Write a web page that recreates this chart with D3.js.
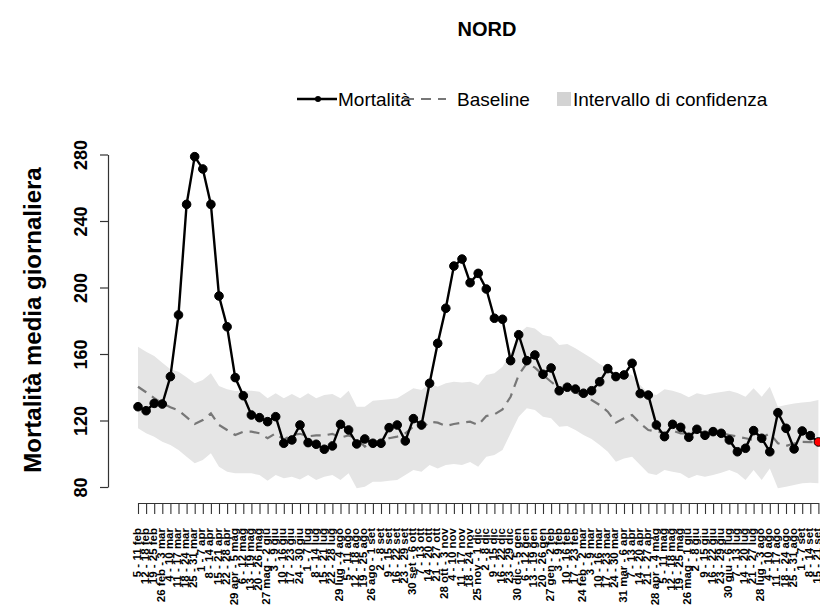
<!DOCTYPE html>
<html>
<head>
<meta charset="utf-8" />
<title>NORD</title>
<style>
  body { margin: 0; background: #fff; }
  svg { display: block; font-family: "Liberation Sans", Arial, sans-serif; }
</style>
</head>
<body>
<div id="chart"></div>
<script src="https://cdn.jsdelivr.net/npm/d3@7"></script>
<script>
// weekly labels (feb 2020 - set 2021)
var weeks = ["5 - 11 feb", "12 - 18 feb", "19 - 25 feb", "26 feb - 3 mar", "4 - 10 mar", "11 - 17 mar",
  "18 - 24 mar", "25 - 31 mar", "1 - 7 apr", "8 - 14 apr", "15 - 21 apr", "22 - 28 apr", "29 apr - 5 mag",
  "6 - 12 mag", "13 - 19 mag", "20 - 26 mag", "27 mag - 2 giu", "3 - 9 giu", "10 - 16 giu", "17 - 23 giu",
  "24 - 30 giu", "1 - 7 lug", "8 - 14 lug", "15 - 21 lug", "22 - 28 lug", "29 lug - 4 ago", "5 - 11 ago",
  "12 - 18 ago", "19 - 25 ago", "26 ago - 1 set", "2 - 8 set", "9 - 15 set", "16 - 22 set", "23 - 29 set",
  "30 set - 6 ott", "7 - 13 ott", "14 - 20 ott", "21 - 27 ott", "28 ott - 3 nov", "4 - 10 nov", "11 - 17 nov",
  "18 - 24 nov", "25 nov - 1 dic", "2 - 8 dic", "9 - 15 dic", "16 - 22 dic", "23 - 29 dic", "30 dic - 5 gen",
  "6 - 12 gen", "13 - 19 gen", "20 - 26 gen", "27 gen - 2 feb", "3 - 9 feb", "10 - 16 feb", "17 - 23 feb",
  "24 feb - 2 mar", "3 - 9 mar", "10 - 16 mar", "17 - 23 mar", "24 - 30 mar", "31 mar - 6 apr", "7 - 13 apr",
  "14 - 20 apr", "21 - 27 apr", "28 apr - 4 mag", "5 - 11 mag", "12 - 18 mag", "19 - 25 mag", "26 mag - 1 giu",
  "2 - 8 giu", "9 - 15 giu", "16 - 22 giu", "23 - 29 giu", "30 giu - 6 lug", "7 - 13 lug", "14 - 20 lug",
  "21 - 27 lug", "28 lug - 3 ago", "4 - 10 ago", "11 - 17 ago", "18 - 24 ago", "25 - 31 ago", "1 - 7 set",
  "8 - 14 set", "15 - 21 set"];

var mortalita = [128.3, 125.9, 130.3, 129.9, 146.4, 183.5, 250, 278.7, 271.3, 250,
  194.9, 176.4, 145.8, 134.9, 123.3, 121.7, 119.3, 122.3, 106.3, 108.3,
  117.3, 106.7, 105.7, 102.7, 104.7, 117.7, 114.3, 105.9, 108.9, 106.3,
  106.3, 115.7, 117.3, 107.7, 121.1, 117.3, 142.4, 166.4, 187.5, 212.9,
  217.1, 202.9, 208.5, 199.1, 181.5, 180.9, 156, 171.6, 156, 159.4,
  147.8, 151.6, 137.9, 140, 138.9, 136.4, 137.9, 143.3, 151.2, 146.4,
  147.4, 154.4, 136.2, 135.3, 117.3, 110.3, 117.7, 115.9, 109.9, 114.7,
  111.1, 113.3, 112.3, 108.3, 101.2, 103.3, 113.9, 109.3, 101.2, 124.7,
  115.3, 102.9, 113.7, 110.9, 107.1];

var baseline = [140.3, 137, 133.5, 130.3, 128, 126, 122, 117.9, 120.3, 124.3,
  117.3, 114.3, 111.3, 113.3, 113.3, 112.3, 109.3, 112.3, 108.5, 111.3,
  112, 110.5, 111, 111, 112, 109.7, 111, 109.3, 104.3, 107.2,
  107.2, 109.3, 110.3, 112.3, 116.3, 115.1, 119.3, 118.7, 116.7, 117.9,
  118.7, 119.3, 117.3, 122.7, 123.7, 126.7, 134.3, 147.4, 154.4, 151.8,
  147.4, 143.3, 139.4, 138.8, 137.3, 134.3, 132.3, 129.3, 125.3, 118.7,
  121.3, 123.3, 118.3, 114.3, 113.3, 112.7, 113.9, 112.3, 112.3, 113.3,
  112.7, 112.5, 112.3, 111.3, 110.3, 109.3, 108.3, 109.5, 112.3, 106.3,
  104.7, 106.2, 107.2, 107, 106.8];

var upper = [164.4, 161.4, 158.8, 154.8, 150.8, 149.3, 146, 142.4, 144.4, 148.4,
  140.8, 138.8, 137.7, 137.9, 137.9, 137.3, 133.4, 136.4, 133.4, 135.9,
  133.4, 136.4, 133.4, 135.3, 135.9, 133.4, 137.9, 128.3, 128.3, 131.9,
  132.3, 132.8, 133.4, 136.4, 139.4, 138.4, 142.4, 140.3, 142.4, 143.3,
  142.8, 143.3, 141.4, 147.4, 148.4, 152.4, 160.4, 172.4, 176.4, 175.4,
  171.4, 170.4, 165.4, 166, 163.4, 160.4, 157.4, 154, 151.4, 145.4,
  148.4, 147.4, 141.4, 136.4, 135.3, 138.8, 137.9, 136.4, 134, 136.4,
  135.3, 136.4, 137.2, 137.9, 136.6, 134.3, 139.4, 134.3, 140.3, 128.3,
  129.3, 130.3, 130.9, 131.3, 132.3];

var lower = [115.3, 112.3, 110.3, 107.2, 105.3, 102.3, 98.2, 94.3, 96.2, 100.3,
  92.2, 89.2, 88.2, 88.2, 88.2, 87.2, 83.8, 87.2, 85.2, 86.2,
  84.5, 87.2, 84.2, 86.2, 87.2, 84.2, 88.2, 79.2, 80.2, 83.2,
  83.2, 83.8, 84.2, 87.2, 90.2, 89.2, 93.2, 91.2, 93.2, 93.8,
  93.2, 95, 92.2, 98.2, 99.2, 102.3, 112.3, 122.3, 127.3, 126.3,
  122.3, 121.3, 116.3, 116.7, 114.3, 111.3, 108.9, 105.3, 101.2, 95.2,
  97.2, 98.2, 93.2, 88.2, 87.2, 90.2, 89.2, 88.2, 85.2, 87.2,
  86.2, 87.2, 88.6, 90.2, 88.2, 84.2, 90.2, 84.2, 91.2, 79.2,
  80.2, 81.2, 82.2, 82.6, 82.2];

var yTicks = [80, 120, 160, 200, 240, 280];

var width = 820, height = 610;
var svg = d3.select("#chart").append("svg")
  .attr("width", width)
  .attr("height", height);

var x = d3.scaleLinear().domain([0, weeks.length - 1]).range([138, 818.4]);
var y = d3.scaleLinear().domain([80, 280]).range([487, 154.5]);

// confidence band
var area = d3.area()
  .x(function(d, i) { return x(i); })
  .y0(function(d, i) { return y(lower[i]); })
  .y1(function(d, i) { return y(upper[i]); });
svg.append("path")
  .datum(weeks)
  .attr("d", area)
  .attr("fill", "#e5e5e5");

// baseline
var line = d3.line()
  .x(function(d, i) { return x(i); })
  .y(function(d) { return y(d); });
svg.append("path")
  .datum(baseline)
  .attr("d", line)
  .attr("fill", "none")
  .attr("stroke", "#777")
  .attr("stroke-width", 2.2)
  .attr("stroke-dasharray", "10,7");

// mortality
svg.append("path")
  .datum(mortalita)
  .attr("d", line)
  .attr("fill", "none")
  .attr("stroke", "#000")
  .attr("stroke-width", 2.4);

svg.append("g").selectAll("circle")
  .data(mortalita)
  .enter().append("circle")
  .attr("cx", function(d, i) { return x(i); })
  .attr("cy", function(d) { return y(d); })
  .attr("r", 4.3)
  .attr("fill", function(d, i) { return i === mortalita.length - 1 ? "#ff0000" : "#000"; })
  .attr("stroke", "#000")
  .attr("stroke-width", 1);

// y axis
var yAxis = svg.append("g")
  .attr("transform", "translate(108,0)")
  .call(d3.axisLeft(y).tickValues(yTicks).tickSize(8).tickSizeOuter(0));
yAxis.select(".domain").attr("stroke", "#333").attr("stroke-width", 1.2);
yAxis.selectAll(".tick line").attr("stroke", "#333").attr("stroke-width", 1.2);
yAxis.selectAll(".tick text")
  .attr("font-size", 18)
  .attr("font-weight", "bold")
  .attr("fill", "#000")
  .attr("font-family", "Liberation Sans, Arial, sans-serif")
  .attr("text-anchor", "middle")
  .attr("x", 0).attr("dy", 0)
  .attr("transform", "translate(-21,0) rotate(-90)")
  .attr("y", 0);

// x axis
var xAxis = svg.append("g")
  .attr("transform", "translate(0,503)")
  .call(d3.axisBottom(x).tickValues(d3.range(weeks.length)).tickSize(11).tickSizeOuter(0)
    .tickFormat(function(i) { return weeks[i]; }));
xAxis.select(".domain").attr("stroke", "#333").attr("stroke-width", 1.2);
xAxis.selectAll(".tick line").attr("stroke", "#333").attr("stroke-width", 1.1);
xAxis.selectAll(".tick text")
  .attr("font-size", 11.5)
  .attr("font-weight", "bold")
  .attr("fill", "#000")
  .attr("font-family", "Liberation Sans, Arial, sans-serif")
  .attr("text-anchor", "end")
  .attr("transform", "translate(-2,25) rotate(-90)")
  .attr("x", 0).attr("y", 0).attr("dy", "0.35em");

// y title
svg.append("text")
  .attr("transform", "translate(41,320) rotate(-90)")
  .attr("text-anchor", "middle")
  .attr("font-size", 24)
  .attr("font-weight", "bold")
  .text("Mortalità media giornaliera");

// title
svg.append("text")
  .attr("x", 487).attr("y", 36)
  .attr("text-anchor", "middle")
  .attr("font-size", 20)
  .attr("font-weight", "bold")
  .text("NORD");

// legend
var lg = svg.append("g").attr("font-size", 19);
lg.append("line").attr("x1", 297).attr("x2", 337).attr("y1", 99).attr("y2", 99)
  .attr("stroke", "#000").attr("stroke-width", 2.4);
lg.append("circle").attr("cx", 318).attr("cy", 99).attr("r", 3).attr("fill", "#000");
lg.append("text").attr("x", 338).attr("y", 106).text("Mortalità");
lg.append("line").attr("x1", 404).attr("x2", 446).attr("y1", 99).attr("y2", 99)
  .attr("stroke", "#777").attr("stroke-width", 2.2).attr("stroke-dasharray", "10,7");
lg.append("text").attr("x", 457).attr("y", 106).text("Baseline");
lg.append("rect").attr("x", 557).attr("y", 92).attr("width", 14).attr("height", 14).attr("fill", "#d3d3d3");
lg.append("text").attr("x", 573).attr("y", 106).text("Intervallo di confidenza");
</script>
</body>
</html>
